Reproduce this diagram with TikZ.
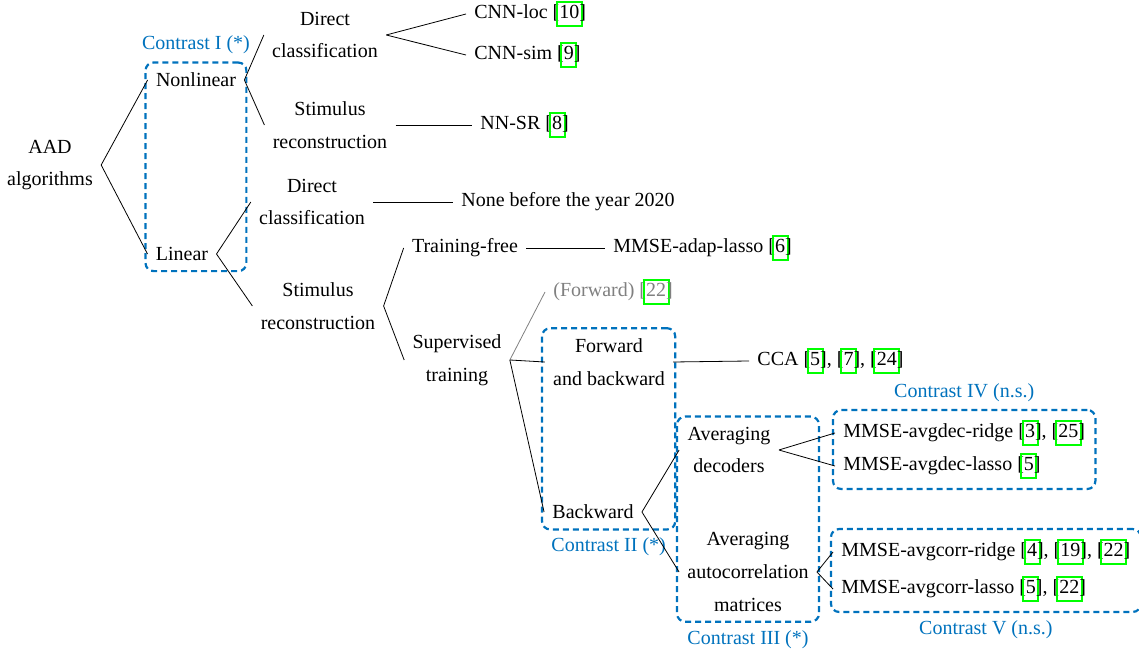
\documentclass[tikz,border=0pt]{standalone}
\usepackage{fontspec}
\setmainfont{Liberation Serif}
\usetikzlibrary{positioning,fit}
\definecolor{ctblue}{RGB}{0,114,189}
\definecolor{lnkgreen}{RGB}{0,255,0}
\newcommand{\lnk}[1]{\begingroup\setlength{\fboxsep}{0.75pt}\setlength{\fboxrule}{1pt}\rlap{\hspace{-1.75pt}\textcolor{lnkgreen}{\fbox{\phantom{#1}\vphantom{(}}}}#1\endgroup}
\tikzset{
        cat/.style={align=center,inner sep=4pt,font=\fontsize{10}{16.3}\selectfont},
        leaf/.style={anchor=west,inner sep=4pt,font=\fontsize{10}{12}\selectfont},
        contrast/.style={draw=ctblue,line width=1.1pt,dash pattern=on 3pt off 2pt,rounded corners=4pt,inner sep=1pt},
        clabel/.style={text=ctblue,inner sep=3.5pt,font=\fontsize{10}{12}\selectfont}
}

\begin{document}
\begin{tikzpicture}[x=0.5pt,y=-0.5pt]
        \useasboundingbox (0,0) rectangle (1139,651);
        \node[cat] (aad) at (50,165) {AAD\\algorithms};
        \node[cat] (nonlin) at (196,80) {Nonlinear};
        \node[cat] (lin) at (182,254) {Linear};
        \node[cat] (dcn) at (325,35) {Direct\\classification};
        \node[cat] (srn) at (330,125) {Stimulus\\reconstruction};
        \node[cat] (dcl) at (312,202) {Direct\\classification};
        \node[cat] (srl) at (318,306) {Stimulus\\reconstruction};
        \node[cat] (tfree) at (465,248) {Training-free};
        \node[cat] (sup) at (457,360) {Supervised\\training};
        \node[cat] (fab) at (609,362) {Forward\\and backward};
        \node[cat] (back) at (593,512) {Backward};
        \node[cat] (avgdec) at (729,450) {Averaging\\decoders};
        \node[cat] (avgcorr) at (748,572) {Averaging\\autocorrelation\\matrices};
        \node[leaf] (cnnloc) at (466,14) {CNN-loc [\lnk{10}]};
        \node[leaf] (cnnsim) at (466,55) {CNN-sim [\lnk{9}]};
        \node[leaf] (nnsr) at (472,125) {NN-SR [\lnk{8}]};
        \node[leaf] (none) at (453,202) {None before the year 2020};
        \node[leaf] (adap) at (605,248) {MMSE-adap-lasso [\lnk{6}]};
        \node[leaf,text=gray] (fwd) at (545,292) {(Forward) [\lnk{22}]};
        \node[leaf] (cca) at (749,361) {CCA [\lnk{5}], [\lnk{7}], [\lnk{24}]};
        \node[leaf] (dridge) at (835,433) {MMSE-avgdec-ridge [\lnk{3}], [\lnk{25}]};
        \node[leaf] (dlasso) at (835,466) {MMSE-avgdec-lasso [\lnk{5}]};
        \node[leaf] (cridge) at (833,552) {MMSE-avgcorr-ridge [\lnk{4}], [\lnk{19}], [\lnk{22}]};
        \node[leaf] (classo) at (833,589) {MMSE-avgcorr-lasso [\lnk{5}], [\lnk{22}]};
        \node[contrast,fit=(nonlin)(lin)] (c1) {};
        \node[contrast,fit=(fab)(back)] (c2) {};
        \node[contrast,fit=(avgdec)(avgcorr)] (c3) {};
        \node[contrast,fit=(dridge)(dlasso)] (c4) {};
        \node[contrast,fit=(cridge)(classo)] (c5) {};
        \node[clabel,above=0pt of c1] (c1lab) {Contrast I (*)};
        \node[clabel,below=0pt of c2] (c2lab) {Contrast II (*)};
        \node[clabel,below=0pt of c3] (c3lab) {Contrast III (*)};
        \node[clabel,above=0pt of c4] (c4lab) {Contrast IV (n.s.)};
        \node[clabel,below=0pt of c5] (c5lab) {Contrast V (n.s.)};
        \draw (aad.east) -- (nonlin.west) (aad.east) -- (lin.west);
        \draw (nonlin.east) -- (dcn.west) (nonlin.east) -- (srn.west);
        \draw (lin.east) -- (dcl.west) (lin.east) -- (srl.west);
        \draw (dcn.east) -- (cnnloc.west) (dcn.east) -- (cnnsim.west);
        \draw (srn.east) -- (nnsr.west);
        \draw (dcl.east) -- (none.west);
        \draw (srl.east) -- (tfree.west) (srl.east) -- (sup.west);
        \draw (tfree.east) -- (adap.west);
        \draw[gray] (sup.east) -- (fwd.west);
        \draw (sup.east) -- (fab.west) (sup.east) -- (back.west);
        \draw (fab.east) -- (cca.west);
        \draw (back.east) -- (avgdec.west) (back.east) -- (avgcorr.west);
        \draw (avgdec.east) -- (dridge.west) (avgdec.east) -- (dlasso.west);
        \draw (avgcorr.east) -- (cridge.west) (avgcorr.east) -- (classo.west);
\end{tikzpicture}
\end{document}
